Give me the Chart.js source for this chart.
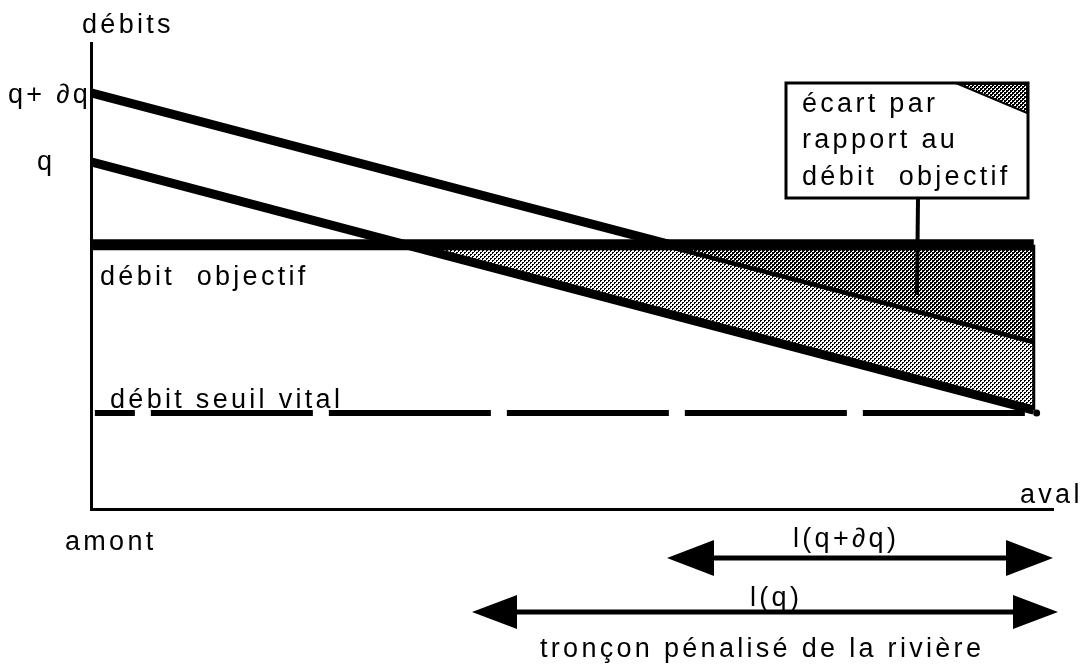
<!DOCTYPE html>
<html>
<head>
<meta charset="utf-8">
<script src="https://cdn.jsdelivr.net/npm/chart.js@4/dist/chart.umd.min.js"></script>
<style>
  html, body { margin: 0; padding: 0; background: #fff; }
  #wrap { width: 1087px; height: 669px; }
</style>
</head>
<body>
<div id="wrap"><canvas id="c" width="1087" height="669"></canvas></div>
<script>
// ---- data (conceptual units: position along the river amont -> aval, débit) ----
const stations        = [0, 98];        // amont ... fin du tronçon
const debitQPlusDq    = [89.3, 36.3];   // q + ∂q
const debitQ          = [74.5, 21.2];   // q
const debitObjectif   = [56.7, 56.7];   // débit objectif
const debitSeuilVital = [20.6, 20.6];   // débit seuil vital

const axisLabels = { y: 'débits', left: 'amont', right: 'aval' };
const seriesLabels = { qdq: 'q+ ∂q', q: 'q', objectif: 'débit  objectif', seuil: 'débit seuil vital' };
const calloutLines = ['écart par', 'rapport au', 'débit  objectif'];
const arrowLabels = { qdq: 'l(q+∂q)', q: 'l(q)', troncon: 'tronçon pénalisé de la rivière' };

const pts = (xs, ys) => xs.map((x, i) => ({ x, y: ys[i] }));

// halftone patterns
function makePattern(blackCells) {
  const t = document.createElement('canvas');
  t.width = 4; t.height = 4;
  const g = t.getContext('2d');
  g.fillStyle = '#fff'; g.fillRect(0, 0, 4, 4);
  g.fillStyle = '#000';
  blackCells.forEach(([x, y]) => g.fillRect(x, y, 1, 1));
  return g.createPattern(t, 'repeat');
}
const lightPattern = makePattern([[0,0],[1,0],[0,1],[2,2],[3,2],[2,3]]);
const darkPattern  = makePattern([[0,0],[1,0],[0,1],[1,1],[2,2],[3,2],[2,3],[3,3],[2,0],[0,2]]);

const FONT = '27px "Liberation Sans", Arial, sans-serif';

const annotations = {
  id: 'annotations',
  afterDatasetsDraw(chart) {
    const ctx = chart.ctx;
    ctx.save();
    ctx.fillStyle = '#000';
    ctx.font = FONT;
    ctx.textBaseline = 'alphabetic';
    ctx.textAlign = 'left';
    try { ctx.letterSpacing = '3.3px'; } catch (e) {}

    const txt = (s, x, y) => ctx.fillText(s, x, y);
    txt(axisLabels.y, 82, 33);
    txt(seriesLabels.qdq, 8, 103);
    txt(seriesLabels.q, 37, 170);
    txt(seriesLabels.objectif, 100, 285);
    txt(seriesLabels.seuil, 110, 408);
    txt(axisLabels.left, 65, 550);
    txt(axisLabels.right, 1020, 503);

    // callout box
    ctx.fillStyle = '#fff';
    ctx.fillRect(786, 83, 242, 115);
    ctx.beginPath();
    ctx.moveTo(958, 84); ctx.lineTo(1027, 84); ctx.lineTo(1027, 113); ctx.closePath();
    ctx.fillStyle = darkPattern; ctx.fill();
    ctx.strokeStyle = '#000'; ctx.lineWidth = 2; ctx.stroke();
    ctx.lineWidth = 3;
    ctx.strokeRect(786, 83, 242, 115);
    ctx.fillStyle = '#000';
    txt(calloutLines[0], 802, 112);
    txt(calloutLines[1], 802, 148);
    txt(calloutLines[2], 802, 185);
    // pointer
    ctx.beginPath(); ctx.lineWidth = 4;
    ctx.moveTo(918, 198); ctx.lineTo(917, 295); ctx.stroke();

    // arrows
    function arrow(x1, x2, y, head, half) {
      ctx.lineWidth = 5;
      ctx.beginPath(); ctx.moveTo(x1 + head - 2, y); ctx.lineTo(x2 - head + 2, y); ctx.stroke();
      ctx.beginPath(); ctx.moveTo(x1, y); ctx.lineTo(x1 + head, y - half); ctx.lineTo(x1 + head, y + half); ctx.closePath(); ctx.fill();
      ctx.beginPath(); ctx.moveTo(x2, y); ctx.lineTo(x2 - head, y - half); ctx.lineTo(x2 - head, y + half); ctx.closePath(); ctx.fill();
    }
    arrow(667, 1053, 558, 47, 18);
    arrow(472, 1058, 612, 45, 17);
    txt(arrowLabels.qdq, 793, 547);
    txt(arrowLabels.q, 750, 606);
    txt(arrowLabels.troncon, 540, 657);
    ctx.restore();
  }
};

const noFillLine = (data, width, extra = {}) => Object.assign({
  data, showLine: true, borderColor: '#000', borderWidth: width,
  pointRadius: 0, fill: false, borderCapStyle: 'butt'
}, extra);

new Chart(document.getElementById('c'), {
  type: 'scatter',
  data: {
    datasets: [
      // 0: right edge of the penalised zone
      noFillLine(pts([stations[1], stations[1]], [debitObjectif[1], debitQ[1]]), 3),
      // 1: débit objectif
      noFillLine(pts(stations, debitObjectif), 11),
      // 2: dark fill between q+∂q and objectif
      noFillLine(pts(stations, debitQPlusDq), 0, { borderColor: 'rgba(0,0,0,0)',
        fill: { target: 1, above: 'rgba(0,0,0,0)', below: darkPattern } }),
      // 3: q line
      noFillLine(pts(stations, debitQ), 9),
      // 4: q+∂q line
      noFillLine(pts(stations, debitQPlusDq), 9),
      // 5: light fill between q and objectif
      noFillLine(pts(stations, debitQ), 0, { borderColor: 'rgba(0,0,0,0)',
        fill: { target: 1, above: 'rgba(0,0,0,0)', below: lightPattern } }),
      // 6: débit seuil vital (dashed)
      noFillLine(pts([0.4, 98.3], debitSeuilVital), 6, {
        borderDash: [162, 16], borderDashOffset: 122,
        pointRadius: [0, 3.5], pointBackgroundColor: '#000', pointBorderWidth: 0 })
    ]
  },
  options: {
    responsive: false,
    animation: false,
    events: [],
    layout: { padding: { left: 91, right: 34, top: 43, bottom: 160 } },
    plugins: { legend: { display: false }, tooltip: { enabled: false }, filler: { propagate: false } },
    scales: {
      x: {
        type: 'linear', min: 0, max: 100,
        ticks: { display: false }, grid: { display: false },
        border: { display: true, color: '#000', width: 3 },
        afterFit: s => { s.height = 0; }
      },
      y: {
        type: 'linear', min: 0, max: 100,
        ticks: { display: false }, grid: { display: false },
        border: { display: true, color: '#000', width: 3 },
        afterFit: s => { s.width = 0; }
      }
    }
  },
  plugins: [annotations]
});
</script>
</body>
</html>
